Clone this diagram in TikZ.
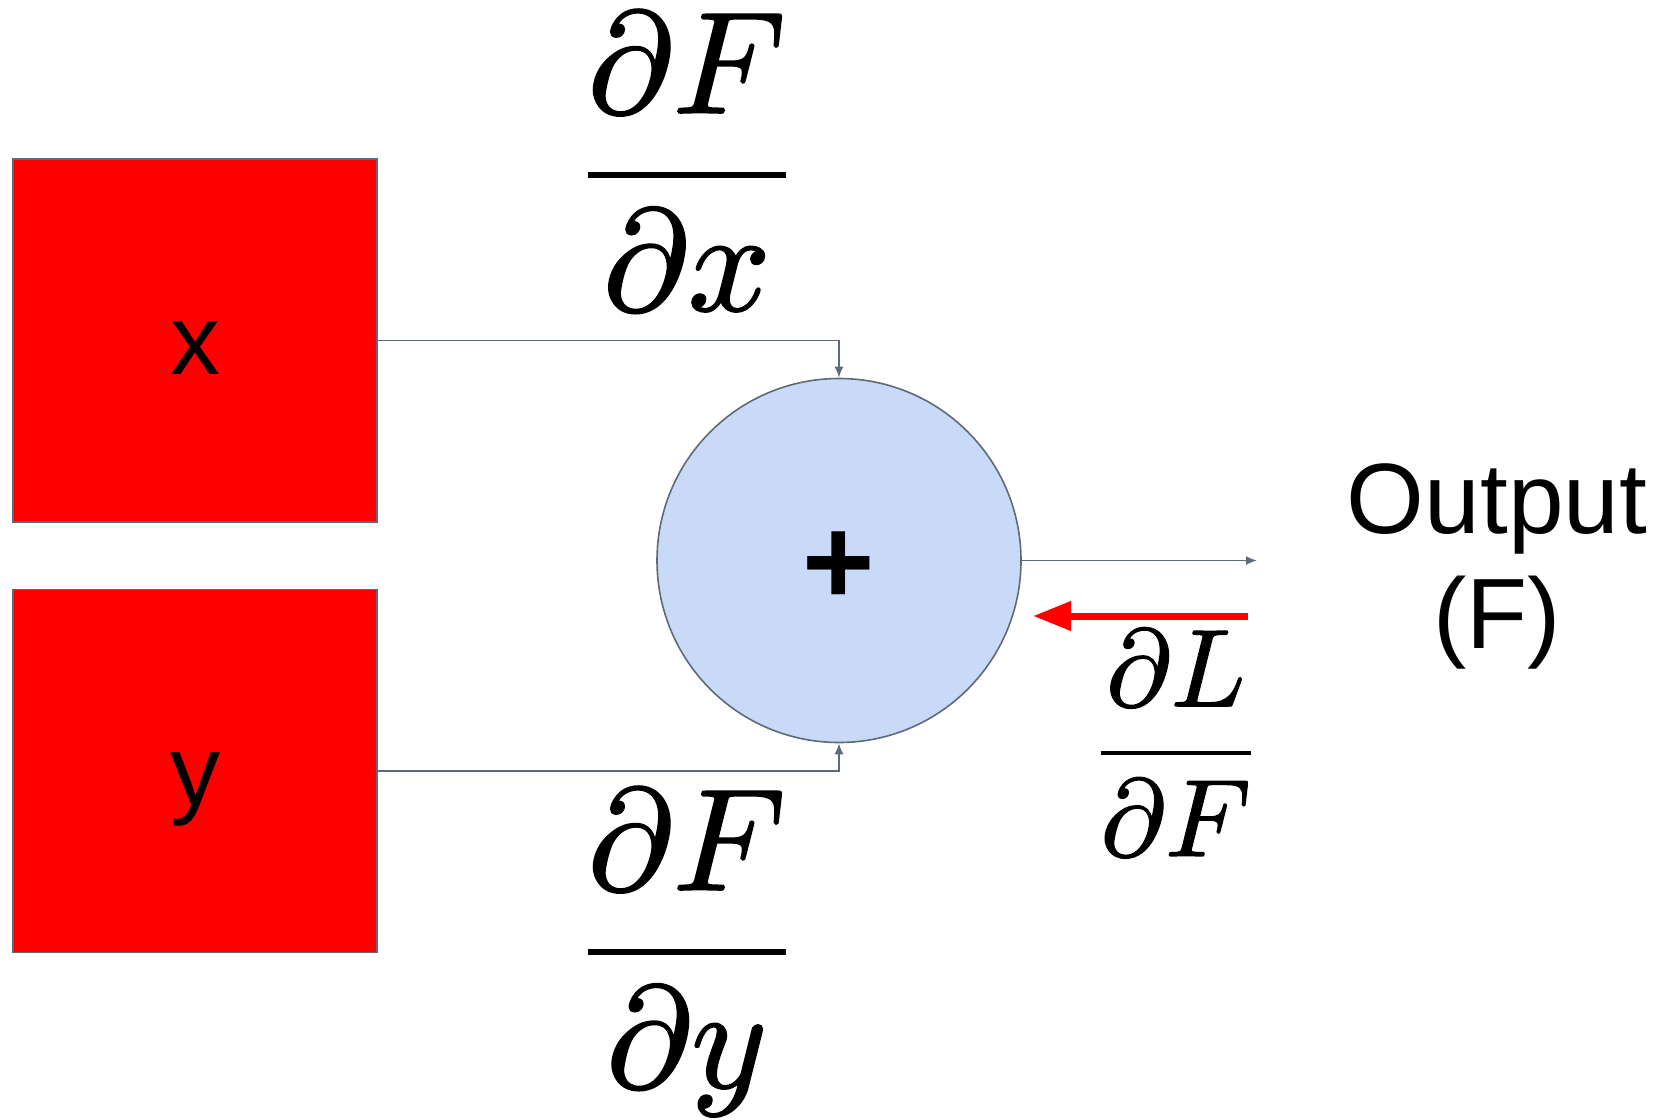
\documentclass[tikz,border=0pt]{standalone}
\usepackage{amsmath}
\usepackage{fontspec}
\newfontfamily\slidefont{Liberation Sans}
\usetikzlibrary{
  arrows.meta,
  positioning
}
\definecolor{edgegray}{RGB}{95,106,120}
\definecolor{inputred}{RGB}{255,0,0}
\definecolor{nodeblue}{RGB}{201,218,248}
% heavier math strokes (fill + stroke text)
\newcommand{\heavy}[1]{\special{pdf:literal 2 Tr 0.12 w}#1\special{pdf:literal 0 Tr}}
\tikzset{>=latex}
\tikzset{
  inputbox/.style={draw=edgegray, line width=1.6pt, fill=inputred,
    minimum width=364pt, minimum height=363pt, inner sep=0pt,
    text height=90pt, text depth=22pt,
    font=\slidefont\fontsize{100}{120}\selectfont},
  addnode/.style={circle, draw=edgegray, line width=1.6pt, fill=nodeblue,
    minimum size=364pt, inner sep=0pt, text height=87pt, text depth=0pt,
    font=\slidefont\bfseries\fontsize{124}{150}\selectfont},
  wire/.style={edgegray, line width=1.8pt, -{Latex[length=11pt, width=9pt]}},
  gradarrow/.style={inputred, line width=7pt, -{Triangle[length=38pt, width=28pt]}},
  bigfrac/.style={inner sep=0pt, anchor=base, scale=14.5},
  smallfrac/.style={inner sep=0pt, anchor=base, scale=11}
}
\begin{document}
\begin{tikzpicture}[x=1pt, y=-1pt]
  \useasboundingbox (0, 0) rectangle (1657, 1119); %
  % inputs and the add gate
  \node[inputbox] (xbox) at (195, 340.5) {x}; %
  \node[inputbox, below=66pt of xbox] (ybox) {y}; %
  \node[addnode] (sum) at (839, 560.5) {+}; %
  \coordinate (outEnd) at (1257, 560.5); %
  \coordinate (gradStart) at (1248, 616); \coordinate (gradEnd) at (1033, 616); %
  % forward wires
  \draw[wire] (xbox.east) -| (sum.north); %
  \draw[wire] (ybox.east) -| (sum.south); %
  \draw[wire] (sum.east) -- (outEnd); %
  % gradient flowing back
  \draw[gradarrow] (gradStart) -- (gradEnd); %
  \node[font=\slidefont\fontsize{100}{115}\selectfont, align=center, inner sep=0pt]
    (output) at (1497, 566) {Output\\(F)}; %
  \node[bigfrac] (dFdx) at (687, 211) {\heavy{$\dfrac{\partial F}{\partial x}$}}; %
  \node[bigfrac] (dFdy) at (687, 988) {\heavy{$\dfrac{\partial F}{\partial y}$}}; %
  \node[smallfrac] (dLdF) at (1176, 780.5) {\heavy{$\dfrac{\partial L}{\partial F}$}}; %
\end{tikzpicture}
\end{document}
